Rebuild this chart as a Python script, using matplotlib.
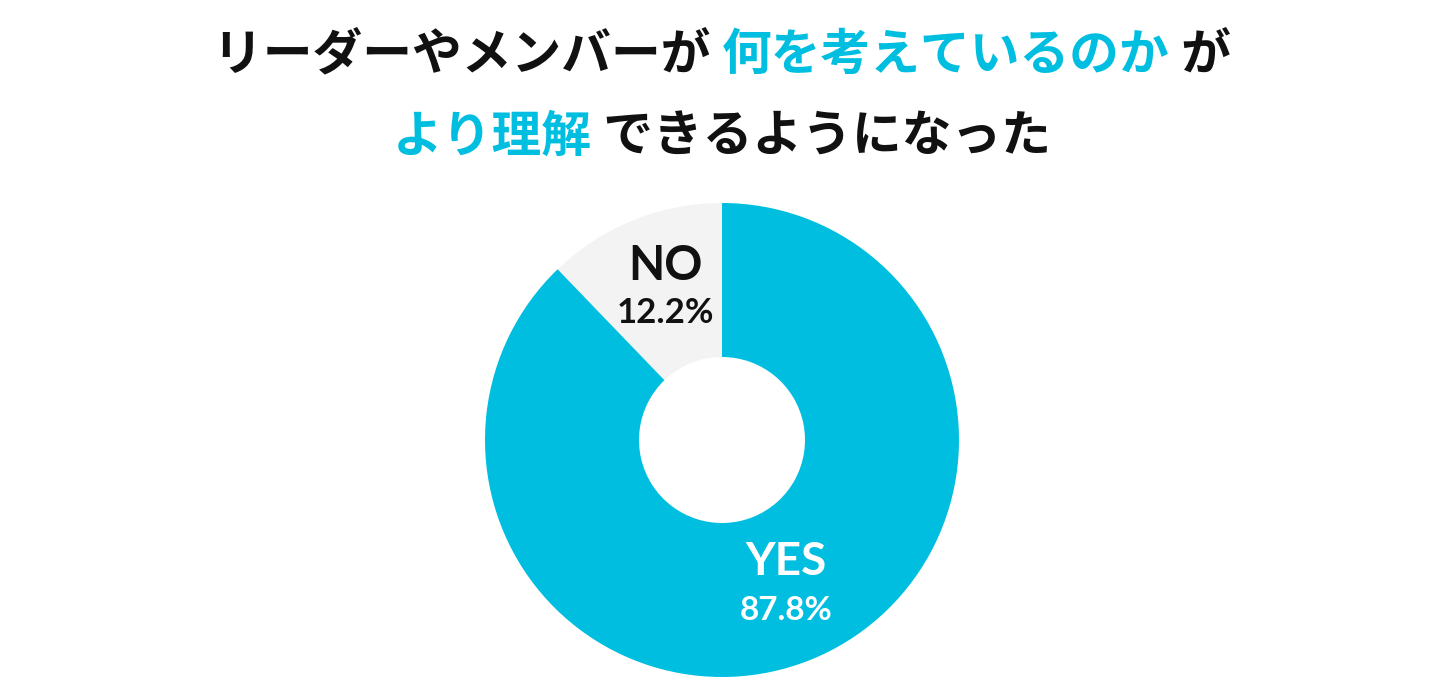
import matplotlib
matplotlib.use("Agg")
import matplotlib.pyplot as plt

labels = ["NO", "YES"]
values = [12.2, 87.8]
colors = ["#f3f3f3", "#00bee0"]
label_colors = ["#111111", "#ffffff"]

# title pieces: (text, colour)
title_line1 = [("リーダーやメンバーが ", "#111111"), ("何を考えているのか", "#00bee0"), (" が", "#111111")]
title_line2 = [("より理解", "#00bee0"), (" できるようになった", "#111111")]

W, H = 1440, 700
fig = plt.figure(figsize=(W / 100, H / 100), dpi=100)
fig.patch.set_facecolor("white")

# donut
cx, cy, r = 722, 440, 237
ax = fig.add_axes([(cx - r) / W, (H - cy - r) / H, 2 * r / W, 2 * r / H])
ax.pie(values, colors=colors, startangle=90, counterclock=True,
       radius=1, wedgeprops=dict(width=1 - 83 / r, linewidth=0))
ax.set_xlim(-1, 1)
ax.set_ylim(-1, 1)
ax.set_aspect("equal")
ax.axis("off")

# labels inside wedges: (x, name baseline, pct baseline, name size, pct size)
label_pos = [(-0.24, 0.675, 0.494, 34, 25), (0.27, -0.570, -0.759, 33, 24)]
for lab, v, c, (x, y1, y2, s1, s2) in zip(labels, values, label_colors, label_pos):
    ax.text(x, y1, lab, ha="center", va="baseline", fontsize=s1,
            fontweight="bold", family="Lato", color=c)
    ax.text(x, y2, f"{v}%", ha="center", va="baseline", fontsize=s2,
            fontweight="bold", family="Lato", color=c)

# title with mixed colours, centred per line
fig.canvas.draw()
renderer = fig.canvas.get_renderer()
for pieces, ypix in [(title_line1, 55), (title_line2, 137)]:
    texts = []
    for s, c in pieces:
        t = fig.text(0, 1 - ypix / H, s, color=c, fontsize=35.8, fontweight="bold",
                     family=["Noto Sans CJK JP", "DejaVu Sans"], va="center", ha="left")
        texts.append(t)
    widths = [t.get_window_extent(renderer).width for t in texts]
    x = (W / 2 + 2 - sum(widths) / 2)
    for t, w in zip(texts, widths):
        t.set_x(x / W)
        x += w

fig.savefig("out.png", dpi=100, facecolor="white")
